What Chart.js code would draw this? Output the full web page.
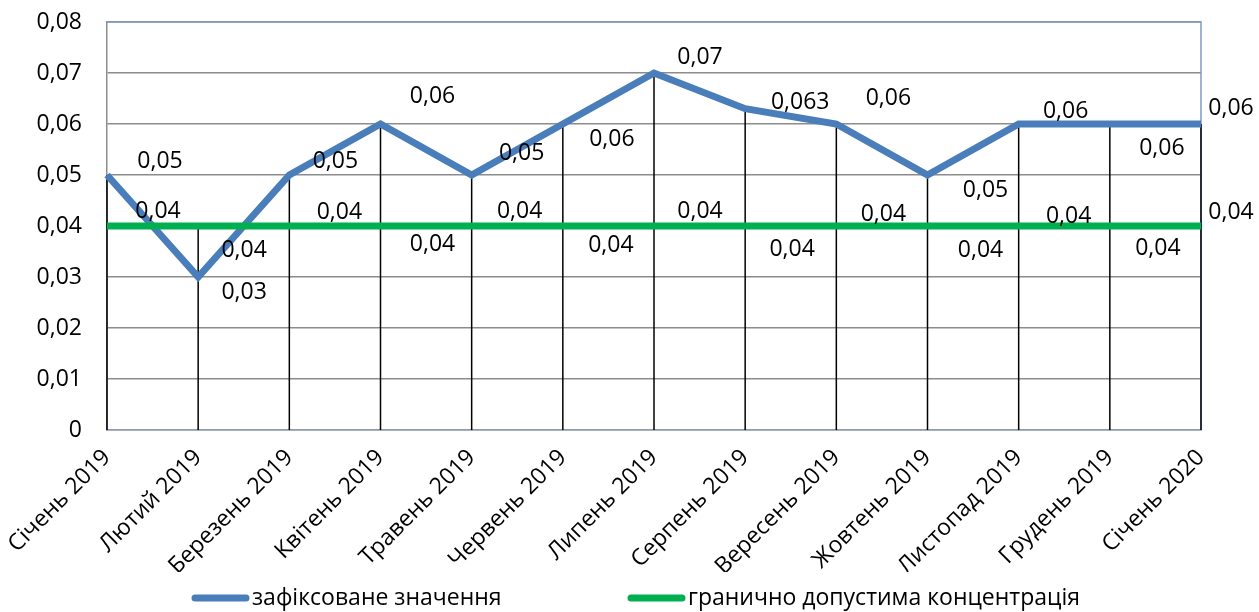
<!DOCTYPE html>
<html>
<head>
<meta charset="utf-8">
<script src="https://cdn.jsdelivr.net/npm/chart.js@4/dist/chart.umd.min.js"></script>
<style>
  html, body { margin: 0; padding: 0; background: #ffffff; }
  canvas { display: block; }
</style>
</head>
<body>
<canvas id="chart" width="1259" height="612"></canvas>
<script>
// Concentration chart - data
const categories = ['Січень 2019', 'Лютий 2019', 'Березень 2019', 'Квітень 2019', 'Травень 2019',
    'Червень 2019', 'Липень 2019', 'Серпень 2019', 'Вересень 2019', 'Жовтень 2019',
    'Листопад 2019', 'Грудень 2019', 'Січень 2020'];
const measured = [0.05, 0.03, 0.05, 0.06, 0.05, 0.06, 0.07, 0.063, 0.06, 0.05, 0.06, 0.06, 0.06];
const limit = [0.04, 0.04, 0.04, 0.04, 0.04, 0.04, 0.04, 0.04, 0.04, 0.04, 0.04, 0.04, 0.04];
const yTicks = [0, 0.01, 0.02, 0.03, 0.04, 0.05, 0.06, 0.07, 0.08];
const seriesNames = ['зафіксоване значення', 'гранично допустима концентрація'];

// label placement relative to the point (px)
const measuredLabelOffsets = [[53, -14], [46, 15], [46, -14], [52, -28], [50, -22], [49, 15], [46, -16],
    [55, -6], [52, -26], [58, 15], [47, -13], [52, 24], [30, -16]];
const limitLabelOffsets = [[51, -15], [46, 24], [50, -14], [52, 18], [48, -15], [48, 19], [46, -15],
    [47, 23], [47, -12], [53, 24], [50, -10], [48, 22], [30, -14]];

const BLUE = '#4A7EBB';
const GREEN = '#00B050';
const FONT = '"Open Sans", sans-serif';

const fmt = v => v === 0 ? '0' : String(+v.toFixed(3)).replace('.', ',');

// no extra padding from tick labels, the plot box is fixed
const noPadding = s => {
    s.paddingTop = 0;
    s.paddingBottom = 0;
    s.paddingLeft = 0;
    s.paddingRight = 0;
};

// Drop lines + plot border
const dropLines = {
    id: 'dropLines',
    beforeDatasetsDraw(chart) {
        const { ctx, chartArea, scales } = chart;
        ctx.save();
        ctx.strokeStyle = '#7F9CC9';
        ctx.lineWidth = 1.5;
        ctx.beginPath();
        ctx.moveTo(chartArea.left, chartArea.top);
        ctx.lineTo(chartArea.right, chartArea.top);
        ctx.lineTo(chartArea.right, chartArea.bottom);
        ctx.stroke();

        ctx.strokeStyle = '#000000';
        ctx.lineWidth = 1.5;
        categories.forEach((c, i) => {
            const x = scales.x.getPixelForValue(i);
            const top = scales.y.getPixelForValue(Math.max(measured[i], limit[i]));
            ctx.beginPath();
            ctx.moveTo(x, scales.y.bottom);
            ctx.lineTo(x, top);
            ctx.stroke();
        });
        ctx.restore();
    }
};

// Value labels
const valueLabels = {
    id: 'valueLabels',
    afterDatasetsDraw(chart) {
        const { ctx } = chart;
        ctx.save();
        ctx.font = '23px ' + FONT;
        ctx.fillStyle = '#000000';
        ctx.textAlign = 'center';
        ctx.textBaseline = 'middle';
        chart.data.datasets.forEach((ds, di) => {
            const meta = chart.getDatasetMeta(di);
            const offsets = di === 0 ? measuredLabelOffsets : limitLabelOffsets;
            meta.data.forEach((pt, i) => {
                ctx.fillText(fmt(ds.data[i]), pt.x + offsets[i][0], pt.y + offsets[i][1]);
            });
        });
        ctx.restore();
    }
};

// Legend at the bottom
const bottomLegend = {
    id: 'bottomLegend',
    afterDraw(chart) {
        const { ctx } = chart;
        const y = 598;
        const items = [
            { x: 192, color: BLUE, text: seriesNames[0] },
            { x: 628, color: GREEN, text: seriesNames[1] }
        ];
        ctx.save();
        ctx.font = '23px ' + FONT;
        ctx.textBaseline = 'middle';
        ctx.textAlign = 'left';
        items.forEach(it => {
            ctx.strokeStyle = it.color;
            ctx.lineWidth = 7;
            ctx.lineCap = 'round';
            ctx.beginPath();
            ctx.moveTo(it.x + 3, y);
            ctx.lineTo(it.x + 54, y);
            ctx.stroke();
            ctx.fillStyle = '#000000';
            ctx.fillText(it.text, it.x + 60, y);
        });
        ctx.restore();
    }
};

new Chart(document.getElementById('chart').getContext('2d'), {
    type: 'line',
    data: {
        labels: categories,
        datasets: [
            {
                label: seriesNames[0],
                data: measured,
                borderColor: BLUE,
                backgroundColor: BLUE,
                borderWidth: 7,
                pointRadius: 0,
                tension: 0,
                fill: false,
                order: 2
            },
            {
                label: seriesNames[1],
                data: limit,
                borderColor: GREEN,
                backgroundColor: GREEN,
                borderWidth: 7,
                pointRadius: 0,
                tension: 0,
                fill: false,
                order: 1
            }
        ]
    },
    plugins: [dropLines, valueLabels, bottomLegend],
    options: {
        responsive: false,
        animation: false,
        layout: { padding: { left: 0, right: 58, top: 22, bottom: 40 } },
        plugins: {
            legend: { display: false },
            tooltip: { enabled: false }
        },
        scales: {
            x: {
                offset: false,
                grid: { display: false, drawTicks: false },
                border: { display: true, color: '#8E9BB0', width: 1.5 },
                ticks: {
                    color: '#000000',
                    font: { family: FONT, size: 23 },
                    minRotation: 45,
                    maxRotation: 45,
                    padding: 14,
                    autoSkip: false
                },
                afterFit: s => { s.height = 142; noPadding(s); }
            },
            y: {
                min: 0,
                max: 0.08,
                afterBuildTicks: s => { s.ticks = yTicks.map(v => ({ value: v })); },
                grid: { color: '#8C8C8C', lineWidth: 1.5, drawTicks: false },
                border: { display: true, color: '#8C8C8C', width: 1.5 },
                ticks: {
                    color: '#000000',
                    font: { family: FONT, size: 23 },
                    padding: 25,
                    callback: v => fmt(v)
                },
                afterFit: s => { s.width = 107; noPadding(s); }
            }
        }
    }
});
</script>
</body>
</html>
